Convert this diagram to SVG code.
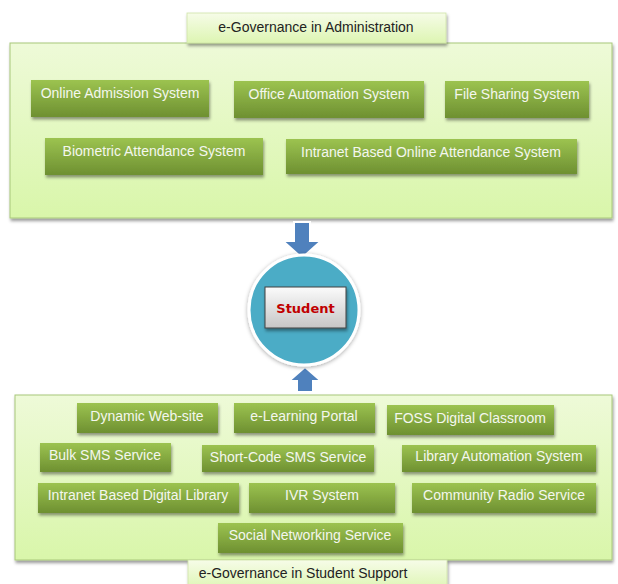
<svg xmlns="http://www.w3.org/2000/svg" width="618" height="584" viewBox="0 0 618 584">
<defs>
<linearGradient id="panel" x1="0" y1="0" x2="0" y2="1"><stop offset="0" stop-color="#eefad8"/><stop offset="1" stop-color="#d9f6aa"/></linearGradient>
<linearGradient id="title" x1="0" y1="0" x2="0" y2="1"><stop offset="0" stop-color="#f6fce8"/><stop offset="1" stop-color="#ddf5b2"/></linearGradient>
<linearGradient id="green" x1="0" y1="0" x2="0" y2="1"><stop offset="0" stop-color="#9cc350"/><stop offset="1" stop-color="#6e9031"/></linearGradient>
<linearGradient id="gray" x1="0" y1="0" x2="0" y2="1"><stop offset="0" stop-color="#fbfbfb"/><stop offset="1" stop-color="#c6c6c6"/></linearGradient>
<filter id="sh" x="-10%" y="-20%" width="130%" height="160%"><feDropShadow dx="1" dy="2.5" stdDeviation="1.5" flood-color="#000" flood-opacity="0.4"/></filter>
<filter id="shc" x="-20%" y="-20%" width="140%" height="140%"><feDropShadow dx="0" dy="1" stdDeviation="2" flood-color="#000" flood-opacity="0.35"/></filter>
</defs>
<style>
.panel{fill:url(#panel);stroke:#a8c87a;stroke-width:1;filter:url(#sh)}
.tbox{fill:url(#title);stroke:#cfe3a8;stroke-width:0.8;filter:url(#sh)}
.gbox{fill:url(#green);filter:url(#sh)}
.gt{font-family:"Liberation Sans",Arial,sans-serif;font-size:14px;fill:#f4f7ee;text-anchor:middle}
.tt{font-family:"Liberation Sans",Arial,sans-serif;font-size:14px;fill:#222;text-anchor:middle}
.arr{fill:#4f81bd;stroke:#fff;stroke-width:2;stroke-linejoin:miter}
</style>
<rect width="618" height="584" fill="#fff"/>

<g id="admin-panel">
<rect class="panel" x="10" y="43" width="602" height="175"/>
</g>
<g id="admin-title">
<rect class="tbox" x="187" y="13" width="259" height="30"/>
<text class="tt" x="316" y="32">e-Governance in Administration</text>
</g>
<g id="online-admission"><rect class="gbox" x="31" y="80" width="178" height="37"/><text class="gt" x="120" y="98">Online Admission System</text></g>
<g id="office-automation"><rect class="gbox" x="234" y="81" width="190" height="37"/><text class="gt" x="329" y="99">Office Automation System</text></g>
<g id="file-sharing"><rect class="gbox" x="445" y="81" width="144" height="37"/><text class="gt" x="517" y="99">File Sharing System</text></g>
<g id="biometric"><rect class="gbox" x="45" y="138" width="218" height="37"/><text class="gt" x="154" y="156">Biometric Attendance System</text></g>
<g id="intranet-attendance"><rect class="gbox" x="286" y="139" width="291" height="35"/><text class="gt" x="431" y="157">Intranet Based Online Attendance System</text></g>

<g id="connectors">
<path class="arr" d="M294,222 H310 V241 H321 L302,258 L283,241 H294 Z"/>
<path class="arr" d="M305,367 L321,381 H313 V392 H297 V381 H289 Z"/>
</g>

<g id="student">
<circle cx="304" cy="310" r="55" fill="#4bacc6" stroke="#fff" stroke-width="3" filter="url(#shc)"/>
<rect x="265" y="287" width="81" height="41" fill="url(#gray)" stroke="#404040" stroke-width="1" filter="url(#sh)"/>
<text x="305.5" y="313" font-family="'DejaVu Sans',Verdana,sans-serif" font-size="13" font-weight="bold" fill="#c00000" text-anchor="middle">Student</text>
</g>

<g id="support-panel">
<rect class="panel" x="15" y="395" width="597" height="165"/>
</g>
<g id="support-title">
<rect class="tbox" x="188" y="560" width="259" height="30"/>
<text class="tt" x="303" y="578">e-Governance in Student Support</text>
</g>
<g id="dynamic-website"><rect class="gbox" x="77" y="403" width="141" height="30"/><text class="gt" x="147" y="421">Dynamic Web-site</text></g>
<g id="e-learning"><rect class="gbox" x="234" y="403" width="141" height="30"/><text class="gt" x="304" y="421">e-Learning Portal</text></g>
<g id="foss"><rect class="gbox" x="387" y="405" width="167" height="30"/><text class="gt" x="470" y="423">FOSS Digital Classroom</text></g>
<g id="bulk-sms"><rect class="gbox" x="40" y="443" width="131" height="29"/><text class="gt" x="105" y="460">Bulk SMS Service</text></g>
<g id="short-code-sms"><rect class="gbox" x="202" y="445" width="172" height="27"/><text class="gt" x="288" y="462">Short-Code SMS Service</text></g>
<g id="library-automation"><rect class="gbox" x="402" y="445" width="194" height="27"/><text class="gt" x="499" y="461">Library Automation System</text></g>
<g id="digital-library"><rect class="gbox" x="38" y="483" width="201" height="30"/><text class="gt" x="138" y="500">Intranet Based Digital Library</text></g>
<g id="ivr"><rect class="gbox" x="249" y="483" width="146" height="30"/><text class="gt" x="322" y="500">IVR System</text></g>
<g id="community-radio"><rect class="gbox" x="412" y="483" width="184" height="30"/><text class="gt" x="504" y="500">Community Radio Service</text></g>
<g id="social-networking"><rect class="gbox" x="218" y="523" width="185" height="30"/><text class="gt" x="310" y="540">Social Networking Service</text></g>
</svg>
